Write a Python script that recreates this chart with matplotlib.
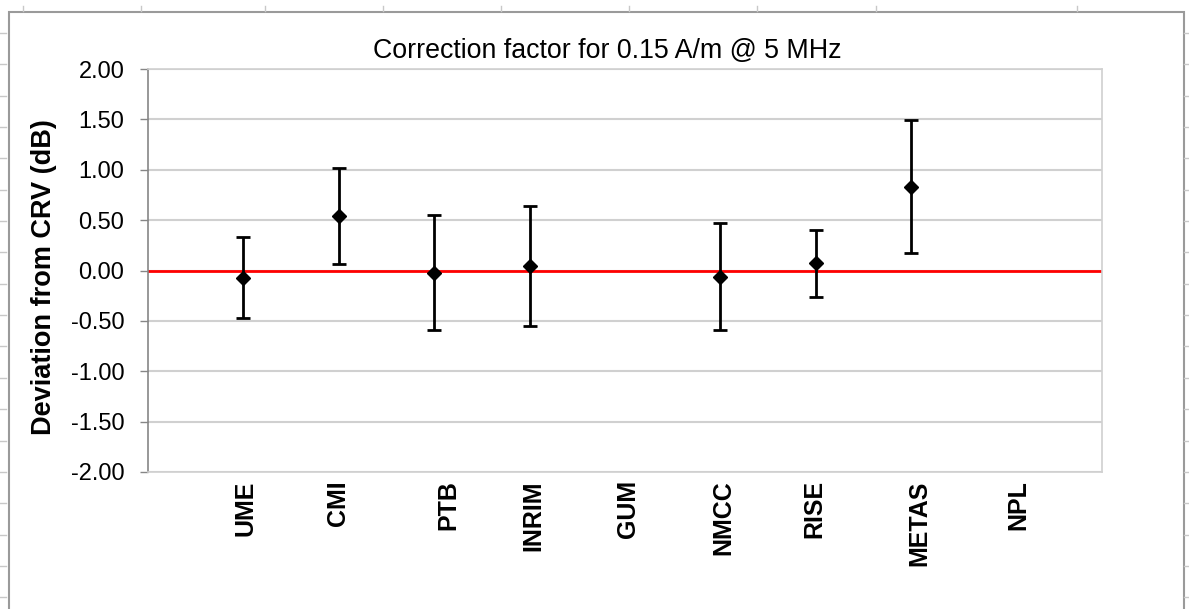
import matplotlib.pyplot as plt
from matplotlib.lines import Line2D
from matplotlib.patches import Rectangle
import numpy as np

# Data
labs = ["UME", "CMI", "PTB", "INRIM", "GUM", "NMCC", "RISE", "METAS", "NPL"]
pos = [1, 2, 3, 4, 6, 7, 8]          # labs with a result (GUM and NPL have none)
dev = [-0.07, 0.54, -0.02, 0.045, -0.06, 0.07, 0.83]
unc = [0.40, 0.48, 0.575, 0.60, 0.535, 0.33, 0.66]

# where the labels sit under the axis (they are not quite under the points)
lab_pos = [1.02, 1.99, 3.15, 4.04, 5.03, 6.03, 6.99, 8.09, 9.12]

plt.rcParams['font.family'] = ['Liberation Sans', 'DejaVu Sans']

W, H = 1189, 609
fig = plt.figure(figsize=(W / 100, H / 100), dpi=100)
fig.patch.set_facecolor("white")

# spreadsheet cell marks behind the chart
for x in [23, 141, 265, 383, 501, 629, 757, 876, 1077]:
    fig.add_artist(Line2D([x / W, x / W], [1 - 6 / H, 1 - 11 / H], color="#c8c8c8", lw=1))
for y in np.arange(33, 609, 31.35):
    fig.add_artist(Line2D([0, 6 / W], [1 - y / H, 1 - y / H], color="#c8c8c8", lw=1))
    fig.add_artist(Line2D([1184 / W, 1], [1 - y / H, 1 - y / H], color="#c8c8c8", lw=1))
fig.add_artist(Rectangle((9 / W, -0.01), 1175 / W, 1 - 12 / H + 0.01, transform=fig.transFigure,
                         fill=False, edgecolor="#9a9a9a", lw=1.5))

ax = fig.add_axes([148 / W, 1 - 472 / H, (1102 - 148) / W, (472 - 69) / H])
ax.set_xlim(0, 10)
ax.set_ylim(-2, 2)
ax.set_yticks(np.arange(-2, 2.01, 0.5))
ax.set_yticklabels([f"{v:.2f}" for v in np.arange(-2, 2.01, 0.5)], fontsize=17)
ax.set_xticks(lab_pos)
ax.set_xticklabels(labs, rotation=90, fontsize=18, fontweight="bold")
ax.tick_params(axis="x", length=0, pad=6)
ax.tick_params(axis="y", length=6, width=1, color="#868686", pad=11)
ax.grid(axis="y", color="#d0d0d0", lw=1.5)
ax.set_axisbelow(True)
for s in ["top", "right", "bottom"]:
    ax.spines[s].set_color("#d0d0d0")
    ax.spines[s].set_linewidth(1.2)
ax.spines["left"].set_color("#868686")
ax.spines["left"].set_linewidth(1.2)

ax.axhline(0, color="red", lw=2, zorder=2)
ax.errorbar(pos, dev, yerr=unc, fmt="D", color="black", ms=7.5, elinewidth=2,
            capsize=5, capthick=2, zorder=3)

ax.set_ylabel("Deviation from CRV (dB)", fontsize=19.5, fontweight="bold")
ax.yaxis.set_label_coords(57 / W, 1 - 277 / H, transform=fig.transFigure)
fig.text(607 / W, 1 - 51 / H, "Correction factor for 0.15 A/m @ 5 MHz", fontsize=19.3,
         ha="center", va="center")

plt.savefig("out.png", dpi=100, facecolor="white")
